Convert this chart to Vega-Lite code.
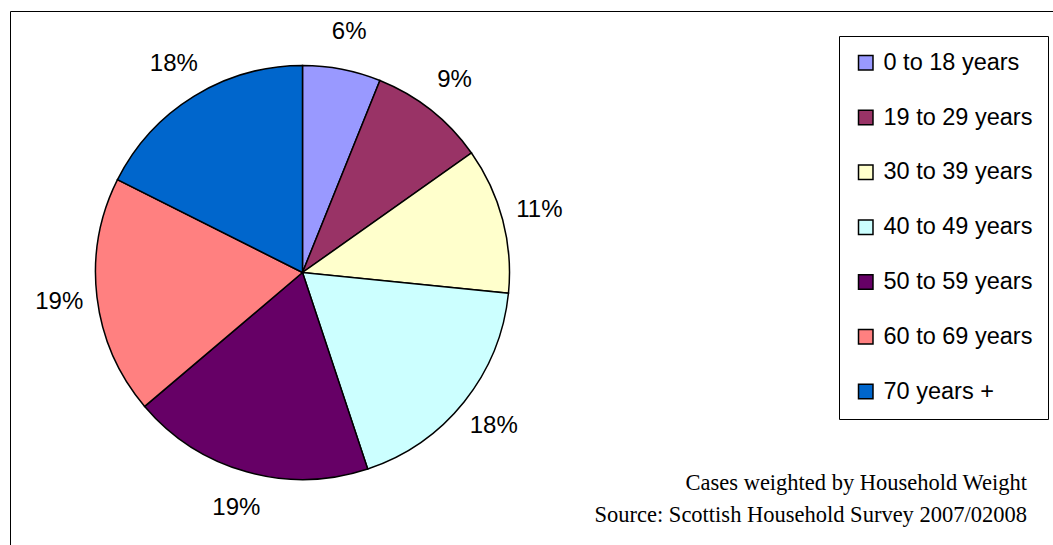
{
  "$schema": "https://vega.github.io/schema/vega-lite/v6.json",
  "width": 1070,
  "height": 560,
  "autosize": {"type": "none"},
  "padding": {"left": 10, "top": 11, "right": 0, "bottom": 0},
  "background": "white",
  "config": {
    "view": {"stroke": "black", "strokeWidth": 1},
    "font": "Liberation Sans"
  },
  "layer": [
    {
      "data": {
        "values": [
          {"group": "0 to 18 years", "share": 0.061},
          {"group": "19 to 29 years", "share": 0.091},
          {"group": "30 to 39 years", "share": 0.114},
          {"group": "40 to 49 years", "share": 0.183},
          {"group": "50 to 59 years", "share": 0.189},
          {"group": "60 to 69 years", "share": 0.186},
          {"group": "70 years +", "share": 0.176}
        ]
      },
      "encoding": {
        "theta": {"field": "share", "type": "quantitative", "stack": true},
        "order": {"field": "group", "sort": "ascending"},
        "x": {"value": 292.5},
        "y": {"value": 261.5}
      },
      "layer": [
        {
          "mark": {"type": "arc", "outerRadius": 207, "stroke": "black", "strokeWidth": 1.5},
          "encoding": {
            "color": {
              "field": "group",
              "type": "nominal",
              "scale": {
                "domain": ["0 to 18 years", "19 to 29 years", "30 to 39 years", "40 to 49 years", "50 to 59 years", "60 to 69 years", "70 years +"],
                "range": ["#9999FF", "#993366", "#FFFFCC", "#CCFFFF", "#660066", "#FF8080", "#0066CC"]
              },
              "legend": {
                "title": null,
                "orient": "none",
                "legendX": 829,
                "legendY": 25,
                "direction": "vertical",
                "symbolType": "square",
                "symbolSize": 210,
                "symbolStrokeColor": "black",
                "symbolStrokeWidth": 1.5,
                "symbolOpacity": 1,
                "labelFont": "Liberation Sans",
                "labelFontSize": 23.5,
                "labelColor": "black",
                "labelOffset": 6,
                "labelLimit": 300,
                "rowPadding": 29.8,
                "padding": 15,
                "strokeColor": "black",
                "fillColor": "white"
              }
            }
          }
        },
        {
          "mark": {"type": "text", "radius": 245, "font": "Liberation Sans", "fontSize": 24, "color": "black", "align": "center", "baseline": "middle"},
          "encoding": {
            "text": {"field": "share", "type": "quantitative", "format": ".0%"}
          }
        }
      ]
    },
    {
      "data": {"values": [{"note": "footnote"}]},
      "mark": {"type": "text", "font": "Liberation Serif", "fontSize": 22.5, "fontWeight": "normal", "color": "black", "align": "right", "baseline": "middle", "lineHeight": 32},
      "encoding": {
        "x": {"value": 1017},
        "y": {"value": 472},
        "text": {"value": ["Cases weighted by Household Weight", "Source: Scottish Household Survey 2007/02008"]}
      }
    }
  ]
}
